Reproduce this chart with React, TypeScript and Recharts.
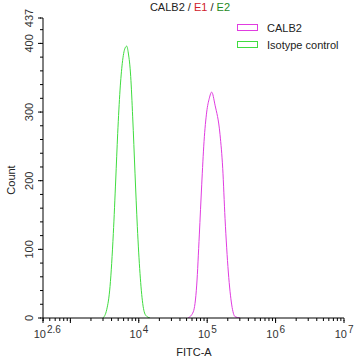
import { LineChart, Line, XAxis, YAxis, Label } from 'recharts'

const calb2X = [4.72, 4.797, 4.847, 4.885, 4.92, 4.954, 4.993, 5.031, 5.066, 5.115, 5.188, 5.227, 5.261, 5.309, 5.359, 5.407, 5.48]
const calb2Count = [0, 9, 48, 121, 194, 257, 300, 320, 329, 310, 267, 218, 145, 67, 19, 2, 0]

const isoX = [3.477, 3.531, 3.58, 3.628, 3.663, 3.692, 3.726, 3.759, 3.799, 3.824, 3.847, 3.882, 3.911, 3.945, 3.979, 4.018, 4.058, 4.101, 4.164]
const isoCount = [0, 12, 46, 123, 201, 269, 332, 371, 393, 396, 386, 352, 293, 211, 133, 65, 21, 4, 0]

const xMajor = [2.6, 4, 5, 6, 7]
const xMajorLabels = ['2.6', '4', '5', '6', '7']
const yMajor = [0, 100, 200, 300, 400, 437]

const MAGENTA = '#e03ce0'
const GREEN = '#3fdc3f'
const FONT = 'Arial, "Liberation Sans", sans-serif'
const MINOR = 3

const calb2Data = calb2X.map((x, i) => ({ x, count: calb2Count[i] }))
const isoData = isoX.map((x, i) => ({ x, count: isoCount[i] }))

// log minor ticks (3, and 2..9 x each decade) inside the domain
const xTicks: number[] = [...xMajor]
for (let d = 2; d < 7; d++) {
  for (let k = 1; k <= 9; k++) {
    const v = d + Math.log10(k)
    if (v > 2.6 && v < 7 && !xMajor.includes(v)) xTicks.push(v)
  }
}
const yTicks: number[] = []
for (let v = 0; v <= 420; v += 20) yTicks.push(v)
yTicks.push(437)

// built-in tick line is the short one; majors get an extension here
const XTick = (props: any) => {
  const { x, y, payload } = props
  const idx = xMajor.indexOf(payload.value)
  const isDecade = Math.abs(payload.value - Math.round(payload.value)) < 1e-9
  return (
    <g>
      {(idx >= 0 || isDecade) && <line x1={x} x2={x} y1={y - 1} y2={y + 2} stroke="#000" />}
      {idx >= 0 && (
        <g fontFamily={FONT} fill="#333">
          <text x={x + 3} y={y + 17} textAnchor="end" fontSize={11}>10</text>
          <text x={x + 4} y={y + 12} textAnchor="start" fontSize={10}>{xMajorLabels[idx]}</text>
        </g>
      )}
    </g>
  )
}

const YTick = (props: any) => {
  const { x, y, payload } = props
  const major = yMajor.includes(payload.value)
  const cx = x - 11
  return (
    <g>
      {major && <line x1={x - 2} x2={x + 1} y1={y} y2={y} stroke="#000" />}
      {major && (
        <text
          x={cx}
          y={y}
          dy="0.35em"
          textAnchor="middle"
          fontSize={11}
          fontFamily={FONT}
          fill="#333"
          transform={`rotate(-90 ${cx} ${y})`}
        >
          {payload.value}
        </text>
      )}
    </g>
  )
}

const legendItems = [
  { name: 'CALB2', color: MAGENTA },
  { name: 'Isotype control', color: GREEN },
]

export default function App() {
  return (
    <div style={{ position: 'relative', width: 358, height: 361, background: '#fff' }}>
      <style>{'body{margin:0}'}</style>
      <div
        style={{
          position: 'absolute',
          top: 1,
          left: 90,
          width: 200,
          textAlign: 'center',
          fontFamily: FONT,
          fontSize: 11,
          color: '#222',
        }}
      >
        CALB2 / <span style={{ color: '#d0202a' }}>E1</span> / <span style={{ color: '#1e8a1e' }}>E2</span>
      </div>
      <div style={{ position: 'absolute', top: 19, left: 237, fontFamily: FONT, fontSize: 11, color: '#222', zIndex: 1 }}>
        {legendItems.map((it) => (
          <div key={it.name} style={{ display: 'flex', alignItems: 'center', height: 17 }}>
            <div style={{ width: 19, height: 5, border: `1px solid ${it.color}` }} />
            <span style={{ marginLeft: 9 }}>{it.name}</span>
          </div>
        ))}
      </div>
      <LineChart width={358} height={361} margin={{ top: 18, right: 14, left: 0, bottom: 0 }}>
        <XAxis
          type="number"
          dataKey="x"
          domain={[2.6, 7]}
          ticks={xTicks}
          interval={0}
          allowDataOverflow
          height={43}
          tickSize={MINOR}
          tickMargin={0}
          tickLine={{ stroke: '#000' }}
          axisLine={{ stroke: '#000' }}
          tick={<XTick />}
        >
          <Label
            content={() => (
              <text x={194} y={356} textAnchor="middle" fontSize={11} fontFamily={FONT} fill="#222">
                FITC-A
              </text>
            )}
          />
        </XAxis>
        <XAxis xAxisId="top" orientation="top" type="number" domain={[2.6, 7]} height={0} tick={false} tickLine={false} axisLine={{ stroke: '#000' }} />
        <YAxis
          type="number"
          domain={[0, 437]}
          ticks={yTicks}
          interval={0}
          allowDataOverflow
          width={43}
          tickSize={MINOR}
          tickMargin={0}
          tickLine={{ stroke: '#000' }}
          axisLine={{ stroke: '#000' }}
          tick={<YTick />}
        >
          <Label
            content={() => (
              <text
                x={11}
                y={180}
                dy="0.35em"
                textAnchor="middle"
                fontSize={11}
                fontFamily={FONT}
                fill="#222"
                transform="rotate(-90 11 180)"
              >
                Count
              </text>
            )}
          />
        </YAxis>
        <YAxis yAxisId="right" orientation="right" domain={[0, 437]} width={0} tick={false} tickLine={false} axisLine={{ stroke: '#000' }} />
        <Line data={isoData} dataKey="count" type="monotone" stroke={GREEN} strokeWidth={1} dot={false} isAnimationActive={false} />
        <Line data={calb2Data} dataKey="count" type="monotone" stroke={MAGENTA} strokeWidth={1} dot={false} isAnimationActive={false} />
      </LineChart>
    </div>
  )
}
